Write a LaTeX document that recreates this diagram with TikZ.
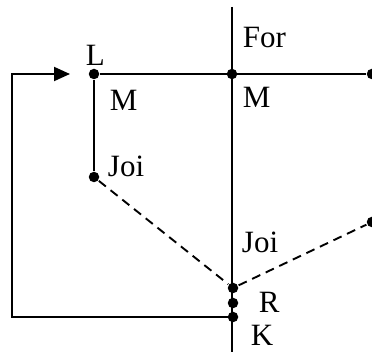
\documentclass[tikz,border=0pt]{standalone}
\usepackage{fontspec}
\setmainfont{Liberation Serif}
\usetikzlibrary{arrows.meta}
\begin{document}
\begin{tikzpicture}[x=1pt,y=-1pt,>={Triangle[length=16pt,width=14pt]},
  line width=1.9pt,
  dot/.style={circle,fill,inner sep=0pt,minimum size=10.5pt},
  lbl/.style={anchor=base west,inner sep=0pt,font=\fontsize{31}{37}\selectfont},
  dash line/.style={dash pattern=on 9pt off 6pt}]
\useasboundingbox (0,0) rectangle (372,352);

% points
\node[dot] (L)  at (94,74) {};
\node[dot] (M)  at (232,74) {};
\node[dot] (Mr) at (372,74) {};
\node[dot] (J)  at (94,177) {};
\node[dot] (Jr) at (372,222) {};
\node[dot] (J2) at (233,288) {};
\node[dot] (R)  at (233,303) {};
\node[dot] (K)  at (233,317) {};
\coordinate (top) at (232,7);
\coordinate (bot) at (232,352);
\coordinate (c1)  at (12,317);
\coordinate (c2)  at (12,74);
\coordinate (tip) at (70,74);

% labels
\node[lbl] (for)  at (242,48)  {For};
\node[lbl] (lL)   at (85,66)   {L};
\node[lbl] (m1)   at (109,111) {M};
\node[lbl] (m2)   at (242,108) {M};
\node[lbl] (joi1) at (107,177) {Joi};
\node[lbl] (joi2) at (241,253) {Joi};
\node[lbl] (r)    at (258,313) {R};
\node[lbl] (k)    at (250,346) {K};

\draw (top) -- (bot);
\draw (L) -- (Mr);
\draw (L) -- (J);
\draw[gray!60,line width=0.8pt] (Mr) -- (Jr);
\draw[dash line] (J) -- (J2);
\draw[dash line] (J2) -- (Jr);
\draw[->] (K.center) -- (c1) -- (c2) -- (tip);

\end{tikzpicture}
\end{document}
